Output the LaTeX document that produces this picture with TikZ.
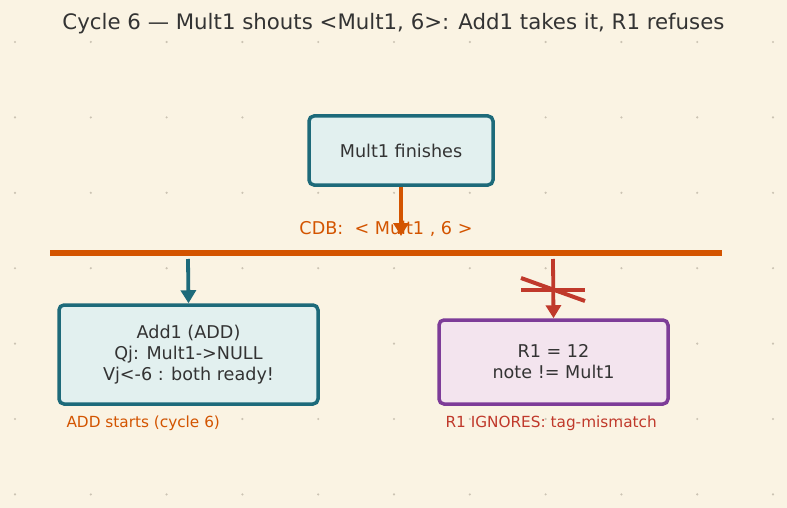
\documentclass[tikz,border=0pt]{standalone}
\usepackage{fontspec}
\setmainfont{DejaVu Sans}
\usetikzlibrary{arrows.meta}

\definecolor{bgcream}{HTML}{FAF3E3}
\definecolor{dotgray}{HTML}{CBC3B3}
\definecolor{tealline}{HTML}{1D6A7A}
\definecolor{tealfill}{HTML}{E2F0EF}
\definecolor{cdborange}{HTML}{D35400}
\definecolor{refred}{HTML}{C0392B}
\definecolor{purpline}{HTML}{7D3C98}
\definecolor{purpfill}{HTML}{F3E4EE}
\definecolor{inktext}{HTML}{333333}

\begin{document}
\begin{tikzpicture}[x=1pt, y=-1pt,
  box/.style={draw=tealline, fill=tealfill, line width=3.5pt, rounded corners=5pt,
    text=inktext, align=center, font=\fontsize{17.6}{21}\selectfont, inner sep=0pt},
  rbox/.style={box, draw=purpline, fill=purpfill},
  note/.style={anchor=west, font=\fontsize{15.3}{18}\selectfont},
  arr/.style={line width=3.8pt, -{Triangle[width=15pt,length=13pt]}}]
  % background and dots
  \fill[bgcream] (0,0) rectangle (787,508);
  \useasboundingbox (0,0) rectangle (787,508);
  \foreach \i in {0,...,10}
    \foreach \j in {0,...,6}
      \fill[dotgray] ({15+75.8*\i},{42+75.4*\j}) circle (1.2pt);

  \node[font=\fontsize{21.3}{25}\selectfont, text=inktext] (title) at (393.5,24)
    {Cycle 6 — Mult1 shouts <Mult1, 6>: Add1 takes it, R1 refuses};

  % boxes
  \node[box, minimum width=184pt, minimum height=69pt] (mult) at (401,150.5) {Mult1 finishes};
  \node[box, minimum width=259pt, minimum height=99pt] (add) at (188.5,354.5)
    {Add1 (ADD)\\Qj: Mult1->NULL\\Vj<-6 : both ready!};
  \node[rbox, minimum width=229pt, minimum height=84pt] (reg) at (553.5,362)
    {R1 = 12\\note != Mult1};

  % common data bus
  \coordinate (cdbL) at (50,253);
  \coordinate (cdbR) at (722,253);
  \draw[cdborange, line width=6pt] (cdbL) -- (cdbR);
  \node[text=cdborange, font=\fontsize{17.6}{21}\selectfont] (cdb) at (386,229)
    {CDB:\ \ < Mult1 , 6 >};

  \coordinate (busA) at (188,259);
  \coordinate (busR) at (553,259);
  \draw[arr, cdborange] (mult.south) -- (401,236);
  \draw[arr, tealline] (busA) -- (add.north);
  \draw[arr, refred] (busR) -- (reg.north);
  % crossed out
  \draw[refred, line width=4pt] (521,290) -- (585,290);
  \draw[refred, line width=4pt] (521,278) -- (585,301);

  \node[note, text=cdborange] (addnote) at (63,423) {ADD starts (cycle 6)};
  \node[note, text=refred] (regnote) at (442,423) {R1 IGNORES: tag-mismatch};
\end{tikzpicture}
\end{document}
